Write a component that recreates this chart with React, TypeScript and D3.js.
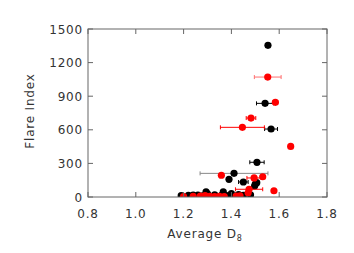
import React from 'react'
import * as d3 from 'd3'

// black sample: average D8, flare index, x error
const blackX = [1.553, 1.541, 1.566, 1.507, 1.411, 1.39, 1.45, 1.506, 1.497, 1.5, 1.294, 1.366,
  1.19, 1.22, 1.24, 1.26, 1.28, 1.30, 1.33, 1.36, 1.38, 1.40, 1.43, 1.45, 1.48]
const blackY = [1354, 836, 607, 310, 211, 158, 134, 128, 98, 115, 45, 45,
  12, 14, 16, 18, 10, 28, 20, 18, 12, 30, 22, 15, 20]
const blackErr = [0, 0.036, 0.027, 0.03, 0.142, 0, 0.02, 0, 0, 0, 0, 0,
  0, 0, 0, 0, 0, 0, 0.01, 0, 0, 0, 0.012, 0, 0]

// red sample
const redX = [1.552, 1.584, 1.482, 1.446, 1.648, 1.358, 1.531, 1.495, 1.474, 1.47, 1.578, 1.436,
  1.20, 1.24, 1.27, 1.29, 1.31, 1.33, 1.35, 1.37, 1.42]
const redY = [1071, 845, 705, 622, 452, 194, 181, 170, 69, 38, 56, 10,
  3, 5, 8, 12, 6, 4, 5, 3, 8]
const redErr = [0.056, 0.01, 0.02, 0.092, 0, 0, 0, 0.03, 0.057, 0, 0, 0,
  0, 0, 0, 0, 0, 0, 0, 0, 0]

const xTicks = [0.8, 1.0, 1.2, 1.4, 1.6, 1.8]
const yTicks = [0, 300, 600, 900, 1200, 1500]

const W = 354
const H = 253
const left = 88, right = 327, top = 29, bottom = 197
const axisColor = '#666'
const textColor = '#333'
const font = 'DejaVu Sans, sans-serif'

export default function App() {
  const x = d3.scaleLinear().domain([0.8, 1.8]).range([left, right])
  const y = d3.scaleLinear().domain([0, 1500]).range([bottom, top])

  const series = (xs: number[], ys: number[], errs: number[], color: string, errColor: (i: number) => string) =>
    xs.map((v, i) => {
      const cx = x(v), cy = y(ys[i]), e = errs[i]
      return (
        <g key={color + i}>
          {e > 0 && (
            <g stroke={errColor(i)} strokeWidth={1}>
              <line x1={x(v - e)} x2={x(v + e)} y1={cy} y2={cy} />
              <line x1={x(v - e)} x2={x(v - e)} y1={cy - 2} y2={cy + 2} />
              <line x1={x(v + e)} x2={x(v + e)} y1={cy - 2} y2={cy + 2} />
            </g>
          )}
          <circle cx={cx} cy={cy} r={3.6} fill={color} />
        </g>
      )
    })

  return (
    <svg width={W} height={H} style={{ position: 'absolute', left: 0, top: 0, background: '#fff' }}>
      <defs>
        <clipPath id="plot">
          <rect x={left} y={top} width={right - left} height={bottom - top} />
        </clipPath>
      </defs>
      <g clipPath="url(#plot)">
        {series(blackX, blackY, blackErr, '#000', (i) => (i === 4 ? '#888' : '#000'))}
        {series(redX, redY, redErr, '#ff0000', (i) => (i === 0 ? '#ff7070' : '#ff0000'))}
      </g>
      <rect x={left} y={top} width={right - left} height={bottom - top} fill="none" stroke={axisColor} strokeWidth={1} />
      {xTicks.map((t) => (
        <g key={'x' + t}>
          <line x1={x(t)} x2={x(t)} y1={bottom} y2={bottom - 5} stroke={axisColor} />
          <line x1={x(t)} x2={x(t)} y1={top} y2={top + 5} stroke={axisColor} />
          <text x={x(t)} y={218} textAnchor="middle" fontFamily={font} fontSize={12} letterSpacing={0.8} fill={textColor}>
            {t.toFixed(1)}
          </text>
        </g>
      ))}
      {yTicks.map((t) => (
        <g key={'y' + t}>
          <line x1={left} x2={left + 5} y1={y(t)} y2={y(t)} stroke={axisColor} />
          <line x1={right} x2={right - 5} y1={y(t)} y2={y(t)} stroke={axisColor} />
          <text x={left - 5} y={y(t) + 4.5} textAnchor="end" fontFamily={font} fontSize={12} letterSpacing={0.8} fill={textColor}>
            {t}
          </text>
        </g>
      ))}
      <text x={205} y={238} textAnchor="middle" fontFamily={font} fontSize={12} letterSpacing={0.8} fill={textColor}>
        Average D<tspan fontSize={8} dy={3}>8</tspan>
      </text>
      <text transform="translate(34,111) rotate(-90)" textAnchor="middle" fontFamily={font} fontSize={12} letterSpacing={0.8} fill={textColor}>
        Flare Index
      </text>
    </svg>
  )
}
